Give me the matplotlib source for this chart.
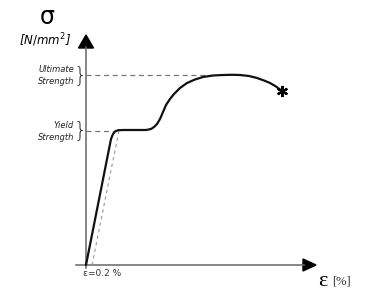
import numpy as np
import matplotlib.pyplot as plt

# schematic stress-strain curve (arbitrary units, origin = (0, 0))
strain = [0, 25, 27, 29, 32, 38, 50, 60, 65, 68, 71, 74, 77, 80, 84, 88, 94,
          101, 109, 117, 127, 137, 146, 154, 163, 171, 178, 184, 190, 196]
stress = [0, 126, 131, 133.5, 134.8, 135, 135, 135, 136, 138, 141, 146, 153, 160, 166, 171, 177,
          182, 185.5, 188, 189.5, 190, 190.2, 190, 189, 187, 184.5, 182, 178.5, 174]

yield_stress = 134.5
ultimate_stress = 190
offset = 6            # 0.2 % offset
yield_strain = 27
ultimate_end = 124

fig = plt.figure(figsize=(3.82, 3.02), dpi=100)
ax = fig.add_axes([0, 0, 1, 1])
ax.set_xlim(-86, 296)
ax.set_ylim(-37, 265)
ax.axis('off')

axc = '#666666'
# axes with arrow heads
ax.plot([-10, 218], [0, 0], color=axc, lw=1.1)
ax.plot([0, 0], [-3, 218], color=axc, lw=1.1)
ax.fill([217, 230, 217], [-6, 0, 6], color='black')
ax.fill([-7.5, 0, 7.5], [217, 230, 217], color='black')

# dashed guide lines
ax.plot([0, yield_strain], [yield_stress, yield_stress], ls=(0, (4, 3)), color='#777777', lw=0.9)
ax.plot([0, ultimate_end], [ultimate_stress, ultimate_stress], ls=(0, (4, 3)), color='#777777', lw=0.9)
ax.plot([offset, offset + yield_strain], [0, yield_stress], ls=(0, (3, 3)), color='#999999', lw=0.8)

# curve
ax.plot(strain, stress, color='#111111', lw=1.6, solid_capstyle='round')
ax.plot(strain[-1], stress[-1], marker=(6, 2, 0), color='black', ms=8, mew=1.6)

# labels
ax.text(-39, 248, 'σ', fontsize=17, ha='center', va='center')
ax.text(-41, 225, '[$\\mathit{N/mm}^2$]', fontsize=8.5, ha='center', va='center', style='italic')
ax.text(-12, 196, 'Ultimate', fontsize=6, style='italic', ha='right', va='center', color='#222222')
ax.text(-12, 184, 'Strength', fontsize=6, style='italic', ha='right', va='center', color='#222222')
ax.text(-12, 140, 'Yield', fontsize=6, style='italic', ha='right', va='center', color='#222222')
ax.text(-12, 128, 'Strength', fontsize=6, style='italic', ha='right', va='center', color='#222222')
ax.text(-6, ultimate_stress, '}', fontsize=15, ha='center', va='center', color='#222222', fontweight='light')
ax.text(-6, yield_stress, '}', fontsize=15, ha='center', va='center', color='#222222', fontweight='light')
ax.text(-3, -8, 'ε=0.2 %', fontsize=6.5, ha='left', va='center', color='#333333')
ax.text(232, -17, 'ε', fontsize=16, family='Liberation Serif', ha='left', va='center')
ax.text(246, -16, '[%]', fontsize=9, family='Liberation Serif', ha='left', va='center', color='#333333')

fig.savefig('out.png', dpi=100)
